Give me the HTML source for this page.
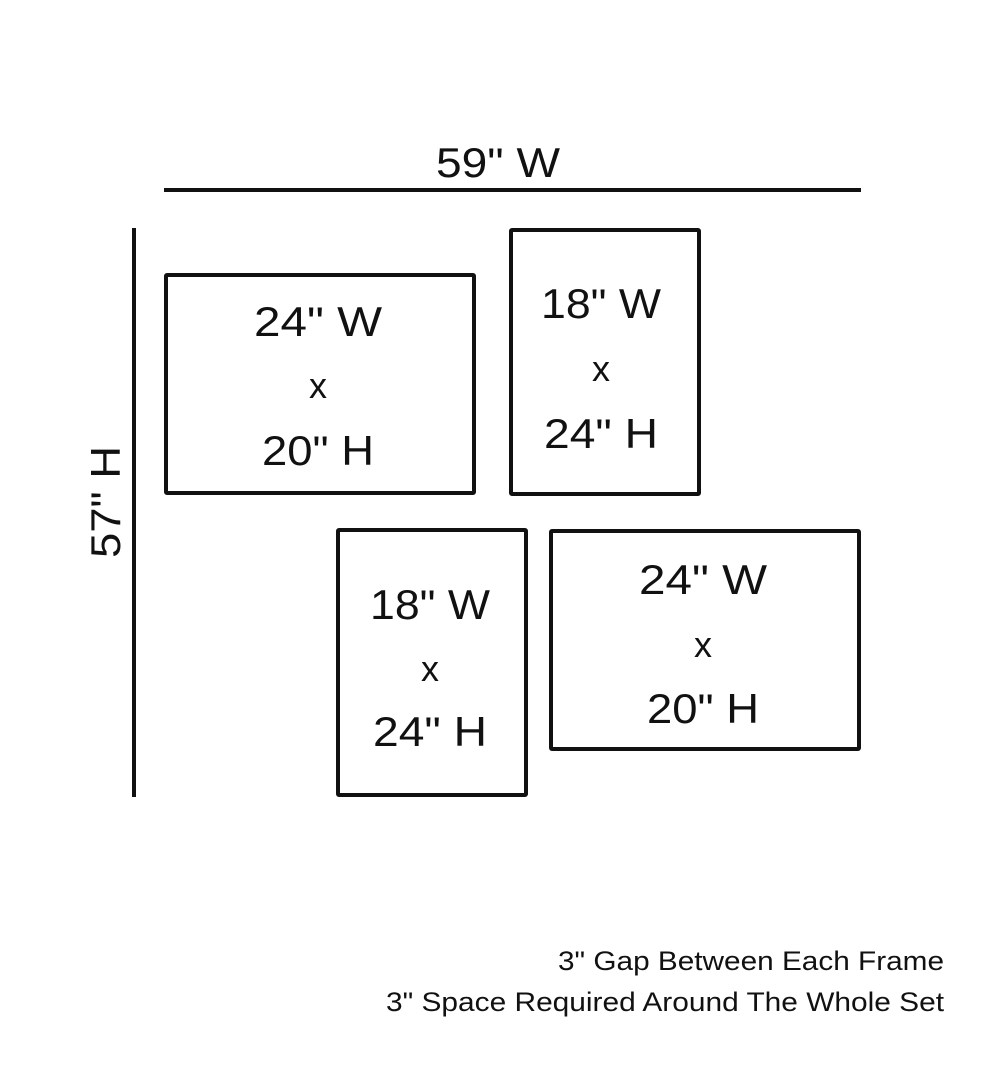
<!DOCTYPE html>
<html><head><style>body{margin:0;background:#fff}svg{display:block}text{font-family:"Liberation Sans","DejaVu Sans",sans-serif;fill:#111}</style></head>
<body>
<svg width="1000" height="1081" viewBox="0 0 1000 1081" xmlns="http://www.w3.org/2000/svg">
<g stroke="#111" stroke-width="4" fill="none">
<line x1="164" y1="190" x2="861" y2="190"/>
<line x1="134" y1="228" x2="134" y2="797"/>
<rect x="166" y="275" width="308" height="218" rx="1"/>
<rect x="511" y="230" width="188" height="264" rx="1"/>
<rect x="338" y="530" width="188" height="265" rx="1"/>
<rect x="551" y="531" width="308" height="218" rx="1"/>
</g>
<g font-size="42" text-anchor="middle" lengthAdjust="spacingAndGlyphs">
<text x="498" y="177" textLength="124" lengthAdjust="spacingAndGlyphs">59" W</text>
<text x="318" y="336" textLength="128" lengthAdjust="spacingAndGlyphs">24" W</text>
<text x="318" y="398" font-size="36">x</text>
<text x="318" y="465" textLength="112" lengthAdjust="spacingAndGlyphs">20" H</text>
<text x="601" y="318" textLength="120" lengthAdjust="spacingAndGlyphs">18" W</text>
<text x="601" y="381" font-size="36">x</text>
<text x="601" y="448" textLength="114" lengthAdjust="spacingAndGlyphs">24" H</text>
<text x="430" y="619" textLength="120" lengthAdjust="spacingAndGlyphs">18" W</text>
<text x="430" y="681" font-size="36">x</text>
<text x="430" y="746" textLength="114" lengthAdjust="spacingAndGlyphs">24" H</text>
<text x="703" y="594" textLength="128" lengthAdjust="spacingAndGlyphs">24" W</text>
<text x="703" y="657" font-size="36">x</text>
<text x="703" y="723" textLength="112" lengthAdjust="spacingAndGlyphs">20" H</text>
<text transform="translate(120,502) rotate(-90)" textLength="112" lengthAdjust="spacingAndGlyphs">57" H</text>
</g>
<g font-size="27">
<text x="558" y="970" textLength="386" lengthAdjust="spacingAndGlyphs">3" Gap Between Each Frame</text>
<text x="386" y="1011" textLength="558" lengthAdjust="spacingAndGlyphs">3" Space Required Around The Whole Set</text>
</g>
</svg>
</body></html>
